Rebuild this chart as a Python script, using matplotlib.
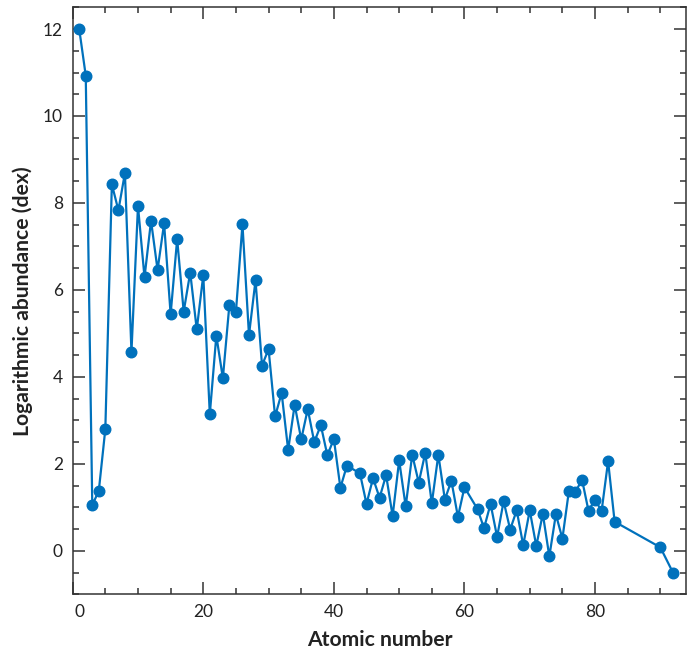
import matplotlib
matplotlib.use("Agg")
import matplotlib.pyplot as plt
import matplotlib.transforms as mtransforms
from matplotlib.ticker import MultipleLocator

# atomic numbers (Tc, Pm and 84-89, 91 are missing)
z = [1, 2, 3, 4, 5, 6, 7, 8, 9, 10,
     11, 12, 13, 14, 15, 16, 17, 18, 19, 20,
     21, 22, 23, 24, 25, 26, 27, 28, 29, 30,
     31, 32, 33, 34, 35, 36, 37, 38, 39, 40,
     41, 42, 44, 45, 46, 47, 48, 49, 50,
     51, 52, 53, 54, 55, 56, 57, 58, 59, 60,
     62, 63, 64, 65, 66, 67, 68, 69, 70,
     71, 72, 73, 74, 75, 76, 77, 78, 79, 80,
     81, 82, 83, 90, 92]

# logarithmic abundance in dex
abund = [12.00, 10.93, 1.05, 1.38, 2.80, 8.43, 7.83, 8.69, 4.57, 7.93,
         6.29, 7.59, 6.46, 7.53, 5.44, 7.17, 5.50, 6.40, 5.09, 6.34,
         3.14, 4.95, 3.97, 5.66, 5.49, 7.51, 4.96, 6.22, 4.26, 4.64,
         3.09, 3.63, 2.32, 3.36, 2.56, 3.26, 2.50, 2.89, 2.20, 2.57,
         1.45, 1.96, 1.78, 1.08, 1.67, 1.22, 1.74, 0.80, 2.08,
         1.02, 2.21, 1.57, 2.25, 1.09, 2.21, 1.18, 1.61, 0.78, 1.46,
         0.96, 0.52, 1.08, 0.32, 1.14, 0.49, 0.93, 0.13, 0.93,
         0.11, 0.85, -0.13, 0.84, 0.28, 1.38, 1.35, 1.64, 0.92, 1.18,
         0.91, 2.06, 0.67, 0.08, -0.52]

xticks = [0, 20, 40, 60, 80]

plt.rcParams['font.family'] = ['Lato', 'DejaVu Sans']

fig = plt.figure(figsize=(6.87, 6.5), dpi=100)
ax = fig.add_axes([0.1058, 0.0857, 0.8934, 0.9031])

ax.plot(z, abund, color='#0071BC', lw=1.6, marker='o', ms=7.6, clip_on=False, zorder=3)

ax.set_xlim(0, 94)
ax.set_ylim(-1, 12.5)
ax.set_xticks(xticks, [str(t) for t in xticks])
ax.xaxis.set_minor_locator(MultipleLocator(5))
ax.yaxis.set_major_locator(MultipleLocator(2))
ax.yaxis.set_minor_locator(MultipleLocator(0.5))

ax.tick_params(which='both', direction='in', top=True, right=True,
               color='#333333', width=1.1, labelsize=12.5, labelcolor='#222222')
ax.tick_params(which='major', length=8.5)
ax.tick_params(which='minor', length=4.2)
ax.tick_params(axis='x', pad=7)
ax.tick_params(axis='y', pad=7)
for s in ax.spines.values():
    s.set_color('#333333')
    s.set_linewidth(1.1)

# the "0" label sits a little right of its tick
lab0 = ax.xaxis.get_major_ticks()[0].label1
lab0.set_transform(lab0.get_transform() + mtransforms.ScaledTranslation(7 / 100, 0, fig.dpi_scale_trans))

ax.set_xlabel('Atomic number', fontsize=15.2, fontweight='bold', color='#222222', labelpad=7)
ax.set_ylabel('Logarithmic abundance (dex)', fontsize=15.2, fontweight='bold', color='#222222', labelpad=7)

fig.savefig('out.png', dpi=100)
